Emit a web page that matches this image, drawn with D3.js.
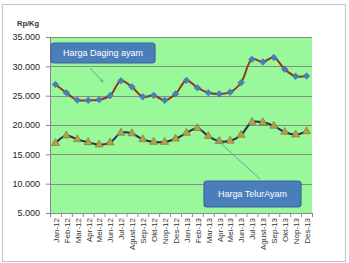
<!DOCTYPE html>
<html>
<head>
<meta charset="utf-8">
<script src="https://cdn.jsdelivr.net/npm/d3@7"></script>
<style>
body{margin:0;background:#fff;}
text{font-family:"Liberation Sans","DejaVu Sans",sans-serif;}
</style>
</head>
<body>
<div id="canvas"></div>
<script>
// data
var months = ['Jan-12','Feb-12','Mar-12','Apr-12','Mei-12','Jun-12','Jul-12','Agust-12','Sep-12','Okt-12','Nop-12','Des-12',
              'Jan-13','Feb-13','Mar-13','Apr-13','Mei-13','Jun-13','Jul-13','Agust-13','Sep-13','Okt-13','Nop-13','Des-13'];
var daging = [26900,25500,24250,24200,24300,25000,27550,26500,24800,25050,24200,25300,
              27600,26350,25500,25300,25600,27200,31200,30750,31500,29500,28300,28350];
var telur = [16900,18200,17550,17050,16650,17000,18650,18550,17550,17100,17100,17650,
             18650,19450,18100,17250,17300,18300,20500,20450,19850,18800,18350,18900];
var yTicks = [5000,10000,15000,20000,25000,30000,35000];

var W = 349, H = 263;
var m = {t:37, l:50, r:37, b:50};
var w = W - m.l - m.r, h = H - m.t - m.b;

var svg = d3.select('#canvas').append('svg')
    .attr('width',W).attr('height',H);

// outer chart border
svg.append('rect')
    .attr('x',2.5).attr('y',4.5).attr('width',343).attr('height',257)
    .attr('fill','#fff').attr('stroke','#c8c8c8').attr('stroke-width',1.2);

var plot = svg.append('g').attr('transform','translate('+m.l+','+m.t+')');

var x = d3.scalePoint().domain(months).range([0,w]).padding(0.5);
var y = d3.scaleLinear().domain([5000,35000]).range([h,0]);

plot.append('rect').attr('x',0).attr('y',0).attr('width',w).attr('height',h)
    .attr('fill','#99f899');

// gridlines
plot.selectAll('.grid').data(yTicks.slice(1)).enter().append('line')
    .attr('x1',0).attr('x2',w)
    .attr('y1',function(d){return Math.round(y(d))+0.5;})
    .attr('y2',function(d){return Math.round(y(d))+0.5;})
    .attr('stroke','#8a8a8a').attr('stroke-width',1);

var fmt = function(d){ return d3.format(',.0f')(d).replace(/,/g,'.'); };

var axisY = d3.axisLeft(y).tickValues(yTicks).tickFormat(fmt).tickSize(4).tickPadding(6);
var gy = plot.append('g').call(axisY);
gy.select('.domain').attr('stroke','#888');
gy.selectAll('.tick line').attr('stroke','#888');
gy.selectAll('text').attr('font-size','9px').attr('fill','#222');

var axisX = d3.axisBottom(x).tickSize(4).tickPadding(3);
var gx = plot.append('g').attr('transform','translate(0,'+h+')').call(axisX);
gx.select('.domain').attr('stroke','#888');
// ticks between categories
gx.selectAll('.tick line').attr('stroke','#888').attr('transform','translate('+(x.step()/2)+',0)');
gx.selectAll('text')
    .attr('font-size','8px').attr('fill','#333')
    .attr('transform','rotate(-90)')
    .attr('text-anchor','end')
    .attr('x',-5).attr('y',0).attr('dy','0.35em');

svg.append('text').attr('x',17).attr('y',26).text('Rp/Kg')
    .attr('font-size','7.5px').attr('font-weight','bold').attr('fill','#333');

// lines
var line = function(vals){
    return d3.line().x(function(d,i){return x(months[i]);}).y(function(d){return y(d);})
        .curve(d3.curveCatmullRom.alpha(0.5))(vals);
};
plot.append('path').attr('d',line(daging)).attr('fill','none')
    .attr('stroke','#8e3a1c').attr('stroke-width',2);
plot.append('path').attr('d',line(telur)).attr('fill','none')
    .attr('stroke','#1f2f5a').attr('stroke-width',2);

plot.selectAll('.dia').data(daging).enter().append('path')
    .attr('d',d3.symbol().type(d3.symbolSquare).size(22))
    .attr('transform',function(d,i){return 'translate('+x(months[i])+','+y(d)+') rotate(45)';})
    .attr('fill','#4a7ebb').attr('stroke','#3f72ad').attr('stroke-width',0.5);

plot.selectAll('.tri').data(telur).enter().append('path')
    .attr('d',d3.symbol().type(d3.symbolTriangle).size(28))
    .attr('transform',function(d,i){return 'translate('+x(months[i])+','+y(d)+')';})
    .attr('fill','#b3a24a').attr('stroke','#7a6e2a').attr('stroke-width',0.6);

// annotations
var defs = svg.append('defs');
defs.append('marker').attr('id','arr').attr('viewBox','0 0 10 10')
    .attr('refX',9).attr('refY',5).attr('markerWidth',5).attr('markerHeight',5)
    .attr('orient','auto')
    .append('path').attr('d','M0,1 L10,5 L0,9').attr('fill','none').attr('stroke','#3a9aa0').attr('stroke-width',1.2);

function callout(bx,by,bw,bh,label,x1,y1,x2,y2){
    svg.append('line').attr('x1',x1).attr('y1',y1).attr('x2',x2).attr('y2',y2)
        .attr('stroke','#3a9aa0').attr('stroke-width',0.8).attr('marker-end','url(#arr)');
    svg.append('rect').attr('x',bx).attr('y',by).attr('width',bw).attr('height',bh)
        .attr('rx',3).attr('fill','#4a7ebb').attr('stroke','#3a65a0').attr('stroke-width',1.2);
    svg.append('text').attr('x',bx+bw/2).attr('y',by+bh/2).attr('dy','0.35em')
        .attr('text-anchor','middle').attr('font-size','9px').attr('fill','#fff').text(label);
}
callout(51,43,104,20,'Harga Daging ayam',90,68,103,82);
callout(204,181,97,26,'Harga TelurAyam',260,179,216,139);
</script>
</body>
</html>
